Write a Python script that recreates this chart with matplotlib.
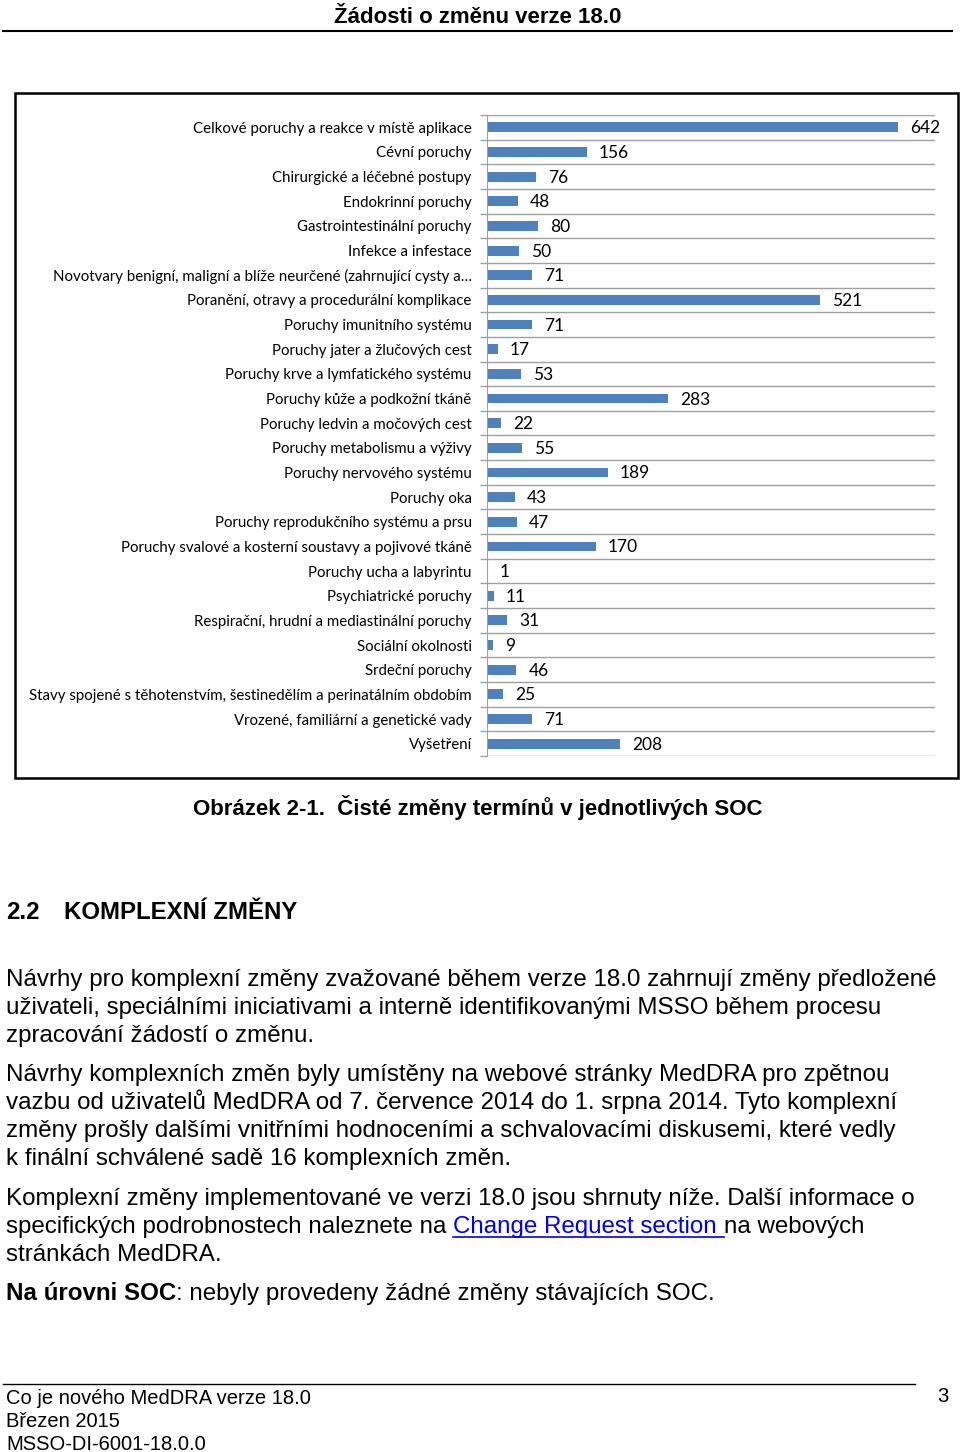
import matplotlib
matplotlib.use("Agg")
import matplotlib.pyplot as plt
from matplotlib.patches import Rectangle
from matplotlib.lines import Line2D

# SOC categories and net term changes (version 18.0)
categories = [
    "Celkové poruchy a reakce v místě aplikace",
    "Cévní poruchy",
    "Chirurgické a léčebné postupy",
    "Endokrinní poruchy",
    "Gastrointestinální poruchy",
    "Infekce a infestace",
    "Novotvary benigní, maligní a blíže neurčené (zahrnující cysty a…",
    "Poranění, otravy a procedurální komplikace",
    "Poruchy imunitního systému",
    "Poruchy jater a žlučových cest",
    "Poruchy krve a lymfatického systému",
    "Poruchy kůže a podkožní tkáně",
    "Poruchy ledvin a močových cest",
    "Poruchy metabolismu a výživy",
    "Poruchy nervového systému",
    "Poruchy oka",
    "Poruchy reprodukčního systému a prsu",
    "Poruchy svalové a kosterní soustavy a pojivové tkáně",
    "Poruchy ucha a labyrintu",
    "Psychiatrické poruchy",
    "Respirační, hrudní a mediastinální poruchy",
    "Sociální okolnosti",
    "Srdeční poruchy",
    "Stavy spojené s těhotenstvím, šestinedělím a perinatálním obdobím",
    "Vrozené, familiární a genetické vady",
    "Vyšetření",
]
values = [642, 156, 76, 48, 80, 50, 71, 521, 71, 17, 53, 283, 22, 55, 189,
          43, 47, 170, 1, 11, 31, 9, 46, 25, 71, 208]

header = "Žádosti o změnu verze 18.0"
caption = "Obrázek 2-1.  Čisté změny termínů v jednotlivých SOC"
section_no = "2.2"
section_title = "KOMPLEXNÍ ZMĚNY"
para1 = ["Návrhy pro komplexní změny zvažované během verze 18.0 zahrnují změny předložené",
         "uživateli, speciálními iniciativami a interně identifikovanými MSSO během procesu",
         "zpracování žádostí o změnu."]
para2 = ["Návrhy komplexních změn byly umístěny na webové stránky MedDRA pro zpětnou",
         "vazbu od uživatelů MedDRA od 7. července 2014 do 1. srpna 2014. Tyto komplexní",
         "změny prošly dalšími vnitřními hodnoceními a schvalovacími diskusemi, které vedly",
         "k finální schválené sadě 16 komplexních změn."]
para3_line1 = "Komplexní změny implementované ve verzi 18.0 jsou shrnuty níže. Další informace o"
para3_line2 = ["specifických podrobnostech naleznete na ", "Change Request section ", "na webových"]
para3_line3 = "stránkách MedDRA."
soc_bold = "Na úrovni SOC"
soc_rest = ": nebyly provedeny žádné změny stávajících SOC."
footer = ["Co je nového MedDRA verze 18.0", "Březen 2015", "MSSO-DI-6001-18.0.0"]
page_no = "3"

W, H = 960, 1452
fig = plt.figure(figsize=(W / 100, H / 100), dpi=100)


def fx(x):
    return x / W


def fy(y):
    return 1 - y / H


doc_font = ["Liberation Sans", "DejaVu Sans"]
chart_font = ["Lato", "DejaVu Sans"]

# page header
fig.text(fx(478), fy(23), header, ha="center", va="baseline",
         fontsize=16, fontweight="bold", family=doc_font)
fig.add_artist(Line2D([fx(3), fx(952)], [fy(31), fy(31)], lw=1.5, color="black"))

# chart frame
fig.add_artist(Rectangle((fx(15), fy(778)), fx(958) - fx(15), fy(93) - fy(778),
                         fill=False, lw=1.8, ec="black", transform=fig.transFigure))

# the bar chart
ax = fig.add_axes([fx(487), fy(756), fx(935) - fx(487), fy(115) - fy(756)])
pos = list(range(len(categories)))
bars = ax.barh(pos, values, height=0.4, color="#4F81BD")
ax.set_ylim(len(categories) - 0.5, -0.5)
ax.set_xlim(0, 700)
ax.set_xticks([])
ax.set_yticks(pos)
ax.set_yticklabels(categories, fontsize=10.8, family=chart_font)
ax.set_yticks([p - 0.5 for p in pos] + [len(pos) - 0.5], minor=True)
ax.tick_params(axis="y", which="major", length=0, pad=11)
ax.tick_params(axis="y", which="minor", length=5, color="#A0A0A0", width=1)
ax.grid(axis="y", which="minor", color="#A0A0A0", lw=1)
for s in ["top", "right", "bottom"]:
    ax.spines[s].set_visible(False)
ax.spines["left"].set_color("#A0A0A0")

for b, v in zip(bars, values):
    ax.annotate(str(v), (v, b.get_y() + b.get_height() / 2), xytext=(12, -1),
                textcoords="offset pixels", va="center", ha="left",
                fontsize=12.5, family=chart_font)

# caption
fig.text(fx(478), fy(815), caption, ha="center", va="baseline",
         fontsize=16, fontweight="bold", family=doc_font)

# section heading
fig.text(fx(6), fy(919), section_no, ha="left", va="baseline",
         fontsize=17.3, fontweight="bold", family=doc_font)
fig.text(fx(64), fy(919), section_title, ha="left", va="baseline",
         fontsize=17.3, fontweight="bold", family=doc_font)

body_size = 17.4
lh = 28


def line(y, s, **kw):
    return fig.text(fx(6), fy(y), s, ha="left", va="baseline",
                    fontsize=body_size, family=doc_font, **kw)


for i, s in enumerate(para1):
    line(986 + i * lh, s)
for i, s in enumerate(para2):
    line(1081 + i * lh, s)
line(1205, para3_line1)
line(1261, para3_line3)

# line with the hyperlink: draw the pieces one after another
fig.canvas.draw()
renderer = fig.canvas.get_renderer()
x = 6
for k, s in enumerate(para3_line2):
    col = "#0000EE" if k == 1 else "black"
    t = fig.text(fx(x), fy(1233), s, ha="left", va="baseline",
                 fontsize=body_size, family=doc_font, color=col)
    w = t.get_window_extent(renderer).width
    if k == 1:
        fig.add_artist(Line2D([fx(x), fx(x + w)], [fy(1237), fy(1237)], lw=1.2, color=col))
    x += w

# SOC line: bold part + regular part
t = fig.text(fx(6), fy(1300), soc_bold, ha="left", va="baseline",
             fontsize=body_size, fontweight="bold", family=doc_font)
w = t.get_window_extent(renderer).width
fig.text(fx(6 + w), fy(1300), soc_rest, ha="left", va="baseline",
         fontsize=body_size, family=doc_font)

# footer
fig.add_artist(Line2D([fx(3), fx(915)], [fy(1384), fy(1384)], lw=1, color="black"))
for i, s in enumerate(footer):
    fig.text(fx(6), fy(1404 + i * 23), s, ha="left", va="baseline",
             fontsize=14.5, family=doc_font)
fig.text(fx(948), fy(1402), page_no, ha="right", va="baseline",
         fontsize=14.5, family=doc_font)

fig.savefig("out.png", dpi=100)
